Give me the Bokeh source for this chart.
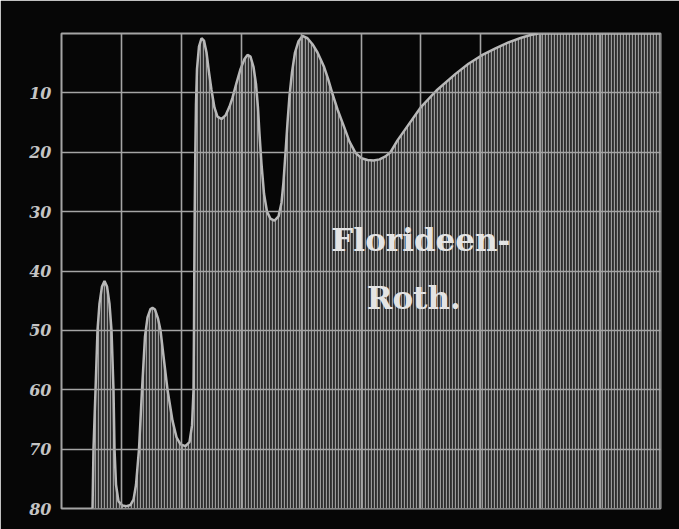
from bokeh.plotting import figure
from bokeh.models import Range1d, FixedTicker, Label
from bokeh.embed import file_html
from bokeh.resources import INLINE

# Spectrum position (grid columns, 0-10) and absorption reading (0 = top, 80 = bottom)
position = [0.518, 0.534, 0.568, 0.601, 0.634, 0.676, 0.718, 0.760, 0.801, 0.835,
            0.868, 0.885, 0.910, 0.952, 1.018, 1.085, 1.152, 1.202, 1.244, 1.277,
            1.294, 1.344, 1.394, 1.436, 1.486, 1.519, 1.561, 1.611, 1.653, 1.711,
            1.770, 1.853, 1.920, 1.987, 2.070, 2.137, 2.179, 2.204, 2.212, 2.217,
            2.224, 2.234, 2.245, 2.262, 2.295, 2.337, 2.379, 2.421, 2.462, 2.504,
            2.554, 2.604, 2.671, 2.738, 2.805, 2.855, 2.922, 2.988, 3.055, 3.105,
            3.155, 3.205, 3.247, 3.280, 3.306, 3.339, 3.381, 3.431, 3.489, 3.556,
            3.623, 3.673, 3.706, 3.740, 3.773, 3.806, 3.848, 3.898, 3.957, 4.023,
            4.107, 4.190, 4.274, 4.324, 4.379, 4.449, 4.519, 4.608, 4.713, 4.808,
            4.908, 5.008, 5.109, 5.209, 5.309, 5.409, 5.492, 5.609, 5.776, 5.993,
            6.260, 6.578, 6.795, 7.012, 7.245, 7.462, 7.663, 7.830, 7.963, 9.000,
            10.000]
absorption = [80.0, 70.0, 60.0, 50.0, 45.5, 42.6, 41.7, 42.6, 45.5, 50.0,
              60.0, 70.0, 76.0, 78.8, 79.5, 79.6, 79.4, 78.5, 76.0, 72.0,
              70.0, 60.0, 51.0, 47.8, 46.4, 46.2, 46.5, 48.0, 50.0, 55.0,
              60.0, 65.2, 68.0, 69.2, 69.5, 68.8, 66.0, 60.0, 50.0, 40.0,
              30.0, 20.0, 12.0, 6.0, 2.2, 0.8, 1.2, 3.2, 6.5, 9.5,
              12.5, 14.0, 14.4, 13.8, 12.3, 10.8, 8.3, 6.0, 4.3, 3.6,
              3.9, 5.6, 8.5, 12.5, 17.0, 22.0, 27.0, 30.0, 31.2, 31.5,
              30.8, 28.5, 25.0, 20.0, 15.0, 10.5, 6.5, 3.2, 1.3, 0.4,
              0.8, 1.8, 3.2, 4.3, 5.5, 7.6, 10.0, 12.8, 15.6, 18.2,
              20.1, 21.0, 21.3, 21.4, 21.2, 20.7, 20.0, 18.0, 15.6, 12.5,
              9.6, 6.8, 5.1, 3.7, 2.5, 1.5, 0.75, 0.25, 0.0, 0.0,
              0.0]
y_ticks = [10, 20, 30, 40, 50, 60, 70, 80]
x_grid = [1, 2, 3, 4, 5, 6, 7, 8, 9]
y_grid = [10, 20, 30, 40, 50, 60, 70]
baseline = 80
title_lines = ["Florideen-", "Roth."]

BG = "#060606"
GRID = "#a4a4a4"

p = figure(width=679, height=529, output_backend="svg", toolbar_location=None,
           x_range=Range1d(0, 10), y_range=Range1d(80, 0),
           background_fill_color=BG, border_fill_color=BG,
           min_border_left=61, min_border_right=19, min_border_top=33, min_border_bottom=21)

p.xaxis.visible = False
p.yaxis.ticker = FixedTicker(ticks=y_ticks)
p.yaxis.axis_line_color = None
p.yaxis.major_tick_line_color = None
p.yaxis.minor_tick_line_color = None
p.yaxis.major_label_standoff = 4
p.yaxis.major_label_text_font = "DejaVu Serif"
p.yaxis.major_label_text_font_style = "bold italic"
p.yaxis.major_label_text_font_size = "16px"
p.yaxis.major_label_text_color = "#c4c4c4"

p.xgrid.ticker = FixedTicker(ticks=x_grid)
p.ygrid.ticker = FixedTicker(ticks=y_grid)
for g in (p.xgrid, p.ygrid):
    g.grid_line_color = GRID
    g.grid_line_width = 1.6
    g.level = "annotation"

p.outline_line_color = GRID
p.outline_line_width = 2

p.varea(x=position, y1=absorption, y2=baseline,
        fill_color="#2c2c2c", hatch_pattern="vertical_line",
        hatch_color="#9a9a9a", hatch_scale=3, hatch_weight=1.3)
p.line(position, absorption, line_color="#b8b8b8", line_width=2.5)

p.add_layout(Label(x=6.0, y=34.8, text=title_lines[0], text_align="center",
                   text_baseline="middle", text_font="DejaVu Serif",
                   text_font_style="bold", text_font_size="31px",
                   text_color="#e4e4e4", level="overlay"))
p.add_layout(Label(x=5.88, y=44.5, text=title_lines[1], text_align="center",
                   text_baseline="middle", text_font="DejaVu Serif",
                   text_font_style="bold", text_font_size="31px",
                   text_color="#e4e4e4", level="overlay"))

open("out.html", "w").write(file_html(p, INLINE))
